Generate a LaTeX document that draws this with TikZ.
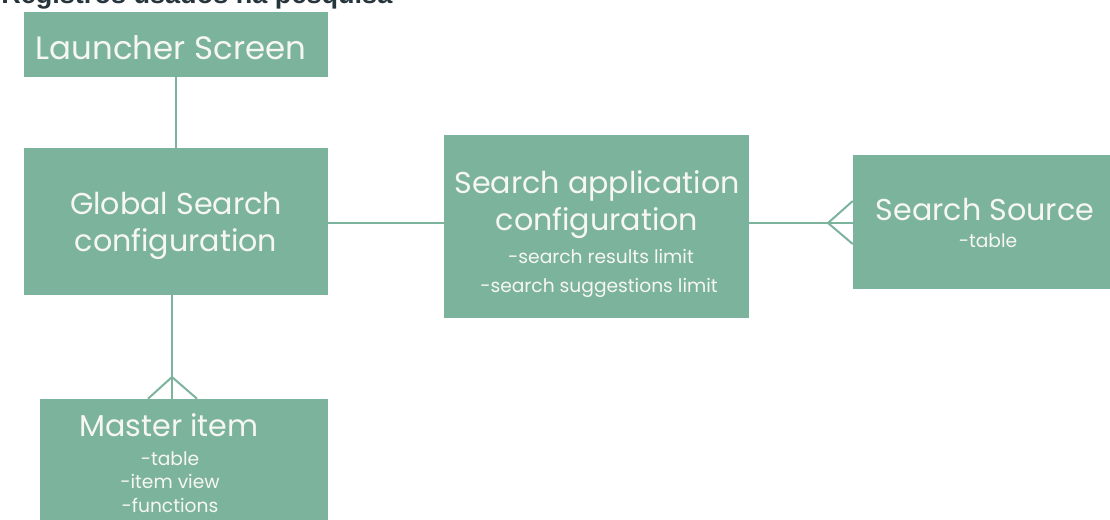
\documentclass[tikz,border=0pt]{standalone}
\usepackage{fontspec}
\setmainfont{Poppins}
\newfontfamily\titlefont{Liberation Sans}
\usetikzlibrary{fit}
\definecolor{boxgreen}{HTML}{7CB39D}
\definecolor{txtwhite}{HTML}{F7F7F2}
\definecolor{titlegray}{HTML}{26343B}
\begin{document}
\begin{tikzpicture}[x=0.75pt,y=-0.75pt,
  box/.style={fill=boxgreen, draw=none, inner sep=0pt, rectangle},
  big/.style={text=txtwhite, font=\fontsize{22.6}{26}\selectfont, anchor=base, inner sep=0pt},
  huge/.style={text=txtwhite, font=\fontsize{24.3}{28}\selectfont, anchor=base, inner sep=0pt},
  small/.style={text=txtwhite, font=\fontsize{14}{16}\selectfont, anchor=base, inner sep=0pt},
  link/.style={draw=boxgreen, line width=1.5pt}]
\useasboundingbox (0,0) rectangle (1110,519);
\clip (0,0) rectangle (1110,519);

\node[text=titlegray, font=\titlefont\bfseries\fontsize{20.3}{24}\selectfont, anchor=base west, inner sep=0pt] (title) at (1,3.5) {Registros usados na pesquisa};

\node[box, fit={(24,12)(328,77)}] (launcher) {};
\node[box, fit={(24,148)(328,295)}] (global) {};
\node[box, fit={(40,399)(328,530)}] (master) {};
\node[box, fit={(444,135)(749,318)}] (app) {};
\node[box, fit={(853,155)(1120,289)}] (source) {};

\node[huge] (tl) at (171,59) {Launcher Screen};
\node[big] (tg1) at (176,214) {Global Search};
\node[big] (tg2) at (176,251) {configuration};
\node[big] (ta1) at (597,193) {Search application};
\node[big] (ta2) at (597,230) {configuration};
\node[small] (ta3) at (601,263) {-search results limit};
\node[small] (ta4) at (599,292) {-search suggestions limit};
\node[big] (ts1) at (985,220) {Search Source};
\node[small] (ts2) at (988,247) {-table};
\node[big] (tm1) at (169,436) {Master item};
\node[small] (tm2) at (170,465) {-table};
\node[small] (tm3) at (170,488) {-item view};
\node[small] (tm4) at (170,512) {-functions};

\coordinate (cf1) at (172,377);
\coordinate (cf2) at (828,223);

\draw[link] (launcher.south) -- (launcher.south |- global.north);
\draw[link] (global.south -| cf1) -- (master.north -| cf1);
\draw[link] (master.north -| 148,0) -- (cf1) -- (master.north -| 197,0);
\draw[link] (global.east |- cf2) -- (app.west |- cf2);
\draw[link] (app.east |- cf2) -- (source.west |- cf2);
\draw[link] (source.west |- 0,201) -- (cf2) -- (source.west |- 0,244);
\end{tikzpicture}
\end{document}
